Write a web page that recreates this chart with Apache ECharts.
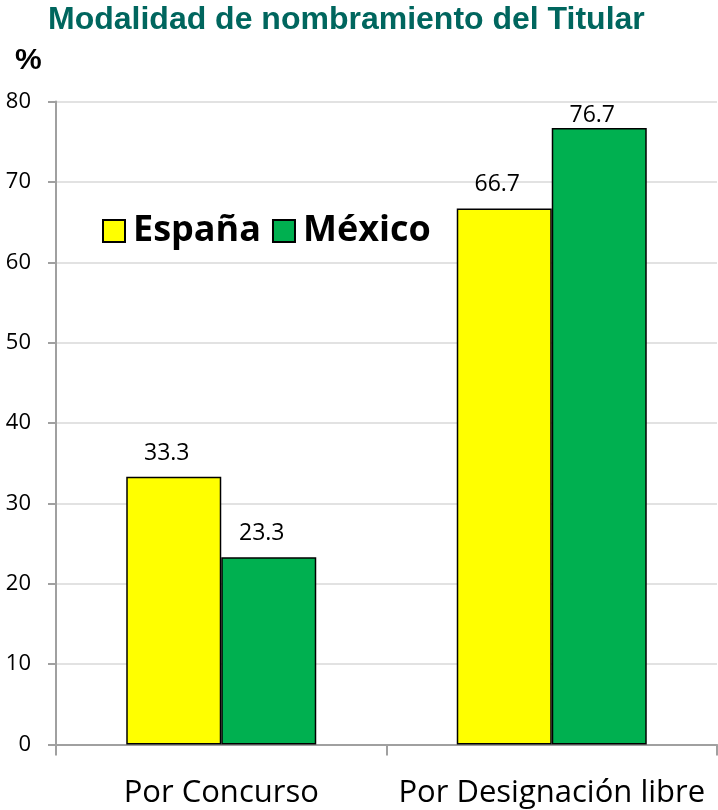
<!DOCTYPE html>
<html>
<head>
<meta charset="utf-8">
<script src="https://cdn.jsdelivr.net/npm/echarts@6/dist/echarts.min.js"></script>
<style>
html,body{margin:0;padding:0;background:#fff;}
#main{width:718px;height:810px;}
</style>
</head>
<body>
<div id="main"></div>
<script>
var titleText = 'Modalidad de nombramiento del Titular';
var unitLabel = '%';
var categories = ['Por Concurso', 'Por Designación libre'];
var seriesNames = ['España', 'México'];
var espana = [33.3, 66.7];
var mexico = [23.3, 76.7];
var yTicks = [0, 10, 20, 30, 40, 50, 60, 70, 80];

var colors = ['#FFFF00', '#00B050'];

function buildData(values) {
  return values.map(function (v) {
    var item = { value: v };
    if (v > 75) { item.label = { distance: 1 }; }
    return item;
  });
}

var chart = echarts.init(document.getElementById('main'), null, { renderer: 'canvas' });
chart.setOption({
  animation: false,
  backgroundColor: '#fff',
  title: {
    text: titleText,
    left: 43,
    top: -1,
    textStyle: {
      fontFamily: 'Liberation Sans',
      fontWeight: 'bold',
      fontSize: 32,
      color: '#00665E'
    }
  },
  graphic: [{
    type: 'text',
    left: 15,
    top: 46,
    style: {
      text: unitLabel,
      font: 'bold 30px "Liberation Sans"',
      fill: '#000'
    }
  }],
  legend: {
    left: 97,
    top: 208,
    itemWidth: 22,
    itemHeight: 22,
    itemGap: 11,
    icon: 'rect',
    data: seriesNames,
    textStyle: {
      fontFamily: 'Open Sans',
      fontWeight: 'bold',
      fontSize: 36,
      color: '#000',
      padding: [0, 0, 0, 3]
    }
  },
  grid: { left: 56, right: 1, top: 101.5, bottom: 65.5, containLabel: false },
  xAxis: {
    type: 'category',
    data: categories,
    axisLine: { lineStyle: { color: '#A0A0A0', width: 2 } },
    axisTick: { show: true, length: 11, lineStyle: { color: '#A0A0A0', width: 2 } },
    axisLabel: {
      interval: 0,
      margin: 33,
      fontFamily: 'Open Sans',
      fontSize: 31,
      color: '#000'
    }
  },
  yAxis: {
    type: 'value',
    min: yTicks[0],
    max: yTicks[yTicks.length - 1],
    interval: 10,
    axisLine: { show: true, lineStyle: { color: '#A0A0A0', width: 2 } },
    axisTick: { show: true, length: 8, lineStyle: { color: '#A0A0A0', width: 2 } },
    splitLine: { lineStyle: { color: '#D9D9D9', width: 1.5 } },
    axisLabel: {
      margin: 25,
      fontFamily: 'Open Sans',
      fontSize: 22,
      color: '#000'
    }
  },
  series: [
    {
      name: seriesNames[0],
      type: 'bar',
      data: buildData(espana),
      barWidth: 95,
      barGap: '0%',
      itemStyle: { color: colors[0], borderColor: '#000', borderWidth: 1.5 },
      label: {
        show: true, position: 'top', distance: 12, offset: [-7, 0],
        fontFamily: 'Open Sans', fontSize: 23, color: '#000'
      }
    },
    {
      name: seriesNames[1],
      type: 'bar',
      data: buildData(mexico),
      barWidth: 95,
      barGap: '0%',
      itemStyle: { color: colors[1], borderColor: '#000', borderWidth: 1.5 },
      label: {
        show: true, position: 'top', distance: 12, offset: [-7, 0],
        fontFamily: 'Open Sans', fontSize: 23, color: '#000'
      }
    }
  ]
});
</script>
</body>
</html>
